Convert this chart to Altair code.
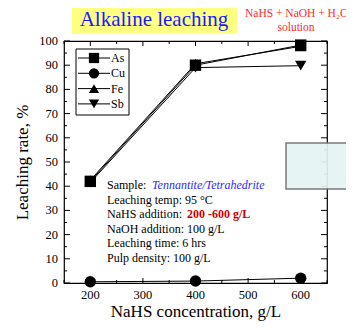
import altair as alt
import pandas as pd

# ---- data ----
conc = [200, 400, 600]
as_vals = [42.0, 90.0, 98.3]
cu_vals = [0.5, 0.8, 2.0]
fe_vals = [42.5, 90.6, 97.8]
sb_vals = [41.5, 89.0, 89.8]
series = ["As", "Cu", "Fe", "Sb"]
shapes = ["square", "circle", "triangle-up", "triangle-down"]

x_major = [200, 300, 400, 500, 600]
x_minor = [150, 250, 350, 450, 550, 650]
y_major = [0, 10, 20, 30, 40, 50, 60, 70, 80, 90, 100]
y_minor = [5, 15, 25, 35, 45, 55, 65, 75, 85, 95]
x_labels = ["200", "300", "400", "500", "600"]
y_labels = ["0", "10", "20", "30", "40", "50", "60", "70", "80", "90", "100"]

info_lines = [
    "Sample: ",
    "Leaching temp: 95 \u00b0C",
    "NaHS addition: ",
    "NaOH addition: 100 g/L",
    "Leaching time: 6 hrs",
    "Pulp density: 100 g/L",
]

FONT = "Liberation Serif"
W, H = 263, 242

rows = []
for name, vals in zip(series, [as_vals, cu_vals, fe_vals, sb_vals]):
    for c, v in zip(conc, vals):
        rows.append({"conc": c, "rate": v, "series": name})
df = pd.DataFrame(rows)

xs = alt.Scale(domain=[150, 650], nice=False, zero=False)
ys = alt.Scale(domain=[0, 100], nice=False)

x_axis = alt.Axis(values=x_major, labels=False, ticks=False, domain=False, grid=False,
                  title="NaHS concentration, g/L", titlePadding=20,
                  titleFont=FONT, titleFontSize=17, titleFontWeight="normal",
                  titleColor="black")
y_axis = alt.Axis(values=y_major, labels=False, ticks=False, domain=False, grid=False,
                  title="Leaching rate, %", titlePadding=33,
                  titleFont=FONT, titleFontSize=17, titleFontWeight="normal",
                  titleColor="black")

x_enc = alt.X("conc:Q", scale=xs, axis=x_axis)
y_enc = alt.Y("rate:Q", scale=ys, axis=y_axis)

lines = alt.Chart(df).mark_line(color="black", strokeWidth=1).encode(
    x=x_enc, y=y_enc, detail="series:N")
points = alt.Chart(df).mark_point(filled=True, color="black", opacity=1, size=130).encode(
    x=x_enc, y=y_enc,
    shape=alt.Shape("series:N", scale=alt.Scale(domain=series, range=shapes), legend=None))

layers = [lines, points]

# tick labels
layers.append(alt.Chart(pd.DataFrame({"rate": y_major, "lab": y_labels})).mark_text(
    font=FONT, fontSize=12.5, color="black", align="right", baseline="middle").encode(
    y=y_enc, x=alt.value(-6), text="lab:N"))
layers.append(alt.Chart(pd.DataFrame({"conc": x_major, "lab": x_labels})).mark_text(
    font=FONT, fontSize=12.5, color="black", align="center", baseline="top").encode(
    x=x_enc, y=alt.value(H + 6), text="lab:N"))

# inward ticks on all four sides
def yticks(vals, ln):
    d = pd.DataFrame({"rate": vals})
    l = alt.Chart(d).mark_rule(color="black", strokeWidth=1).encode(
        y=y_enc, x=alt.value(0), x2=alt.value(ln))
    r = alt.Chart(d).mark_rule(color="black", strokeWidth=1).encode(
        y=y_enc, x=alt.value(W), x2=alt.value(W - ln))
    return [l, r]

def xticks(vals, ln):
    d = pd.DataFrame({"conc": vals})
    b = alt.Chart(d).mark_rule(color="black", strokeWidth=1).encode(
        x=x_enc, y=alt.value(H), y2=alt.value(H - ln))
    t = alt.Chart(d).mark_rule(color="black", strokeWidth=1).encode(
        x=x_enc, y=alt.value(0), y2=alt.value(ln))
    return [b, t]

layers += yticks(y_major, 6) + yticks(y_minor, 3) + xticks(x_major, 5) + xticks(x_minor, 3)

one = pd.DataFrame({"a": [0]})

# legend box
layers.append(alt.Chart(one).mark_rect(fill="white", stroke="black", strokeWidth=1).encode(
    x=alt.value(12), x2=alt.value(65), y=alt.value(8), y2=alt.value(74)))
for i, (name, shp) in enumerate(zip(series, shapes)):
    yy = 17 + i * 15.3
    layers.append(alt.Chart(one).mark_rule(color="black", strokeWidth=1).encode(
        x=alt.value(14), x2=alt.value(46), y=alt.value(yy)))
    layers.append(alt.Chart(one).mark_point(filled=True, color="black", opacity=1,
                                            size=105, shape=shp).encode(
        x=alt.value(30), y=alt.value(yy)))
    layers.append(alt.Chart(pd.DataFrame({"t": [name]})).mark_text(
        font=FONT, fontSize=12, color="black", align="left", baseline="middle").encode(
        x=alt.value(47), y=alt.value(yy), text="t:N"))

# title with yellow background
layers.append(alt.Chart(one).mark_rect(fill="#ffff80").encode(
    x=alt.value(8), x2=alt.value(173), y=alt.value(-37), y2=alt.value(-7)))
layers.append(alt.Chart(pd.DataFrame({"t": ["Alkaline leaching"]})).mark_text(
    font=FONT, fontSize=21, color="#1a1aff", align="center", baseline="middle").encode(
    x=alt.value(90), y=alt.value(-21), text="t:N"))
layers.append(alt.Chart(pd.DataFrame({"t": ["NaHS + NaOH + H\u2082O"]})).mark_text(
    font=FONT, fontSize=11.5, color="#ff2a2a", align="left", baseline="middle").encode(
    x=alt.value(181), y=alt.value(-27), text="t:N"))
layers.append(alt.Chart(pd.DataFrame({"t": ["solution"]})).mark_text(
    font=FONT, fontSize=11.5, color="#ff2a2a", align="center", baseline="middle").encode(
    x=alt.value(232), y=alt.value(-13), text="t:N"))

# condition text
for i, line in enumerate(info_lines):
    yy = 144 + i * 14.6
    layers.append(alt.Chart(pd.DataFrame({"t": [line]})).mark_text(
        font=FONT, fontSize=12, color="black", align="left", baseline="middle").encode(
        x=alt.value(43), y=alt.value(yy), text="t:N"))
layers.append(alt.Chart(pd.DataFrame({"t": ["Tennantite/Tetrahedrite"]})).mark_text(
    font=FONT, fontSize=12, color="#2a2aff", fontStyle="italic", align="left",
    baseline="middle").encode(x=alt.value(88), y=alt.value(144), text="t:N"))
layers.append(alt.Chart(pd.DataFrame({"t": ["200 -600 g/L"]})).mark_text(
    font=FONT, fontSize=12, color="#cc0000", fontWeight="bold", align="left",
    baseline="middle").encode(x=alt.value(123), y=alt.value(144 + 2 * 14.6), text="t:N"))

# pale box at the right edge
layers.append(alt.Chart(one).mark_rect(fill="#e6f4f4", stroke="#6e6e6e", strokeWidth=1.5,
                                       opacity=0.92).encode(
    x=alt.value(222), x2=alt.value(300), y=alt.value(102), y2=alt.value(148)))

chart = alt.layer(*layers).properties(
    width=W, height=H,
    padding={"left": 56, "top": 33, "right": 19, "bottom": 40},
    autosize=alt.AutoSizeParams(type="none"),
    background="white",
).configure_view(stroke="black", strokeWidth=1.2)

chart.save("out.html", embed_options={"renderer": "svg", "actions": False})
